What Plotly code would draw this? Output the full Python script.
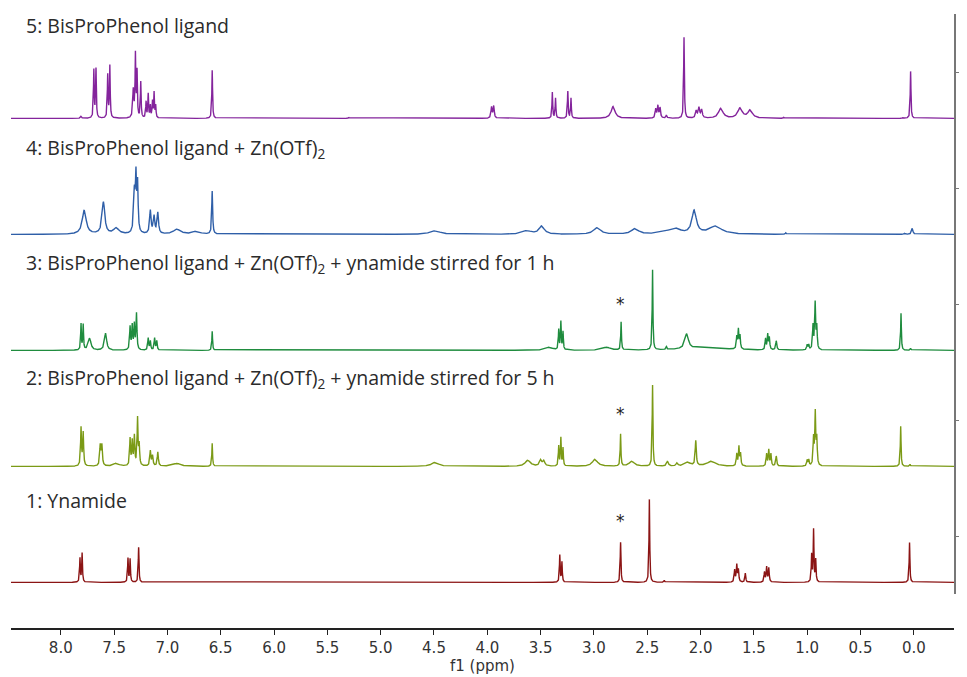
import numpy as np
import plotly.graph_objects as go

# ---------------- data: peak tables ----------------
# each peak: (shift ppm, intensity [a.u.], half-width ppm)
ppm_ticks = [8.0, 7.5, 7.0, 6.5, 6.0, 5.5, 5.0, 4.5, 4.0, 3.5, 3.0, 2.5, 2.0, 1.5, 1.0, 0.5, 0.0]
trace_ids = [1, 2, 3, 4, 5]
labels = [
    "1: Ynamide",
    "2: BisProPhenol ligand + Zn(OTf)<sub>2</sub> + ynamide stirred for 5 h",
    "3: BisProPhenol ligand + Zn(OTf)<sub>2</sub> + ynamide stirred for 1 h",
    "4: BisProPhenol ligand + Zn(OTf)<sub>2</sub>",
    "5: BisProPhenol ligand",
]
colors = ["#8b1414", "#7b9a16", "#1f8c3e", "#2f5fa8", "#84249c"]

peaks_1 = [
    (7.82, 24, 0.004), (7.80, 29, 0.004),
    (7.37, 24, 0.004), (7.35, 23, 0.004),
    (7.27, 35, 0.004),
    (3.32, 27, 0.004), (3.30, 20, 0.004),
    (2.75, 40, 0.004),
    (2.48, 83, 0.004),
    (2.34, 2, 0.005),
    (1.68, 12, 0.005), (1.66, 17, 0.005), (1.645, 12, 0.005),
    (1.58, 9, 0.005),
    (1.40, 10, 0.005), (1.38, 15, 0.005), (1.36, 14, 0.005),
    (0.958, 27, 0.004), (0.94, 52, 0.004), (0.92, 22, 0.004),
    (0.04, 40, 0.004),
]
peaks_2 = [
    (7.81, 38, 0.005), (7.79, 33, 0.005),
    (7.63, 20, 0.006), (7.615, 20, 0.006),
    (7.48, 3, 0.03),
    (7.35, 27, 0.005), (7.33, 24, 0.005), (7.31, 29, 0.005), (7.28, 47, 0.005), (7.265, 20, 0.005),
    (7.16, 15, 0.006), (7.14, 10, 0.006), (7.09, 14, 0.006),
    (6.91, 3, 0.04),
    (6.58, 23, 0.004),
    (4.49, 4, 0.04),
    (3.62, 6, 0.03), (3.50, 6, 0.012), (3.47, 5, 0.012),
    (3.33, 20, 0.004), (3.31, 28, 0.004), (3.29, 18, 0.004),
    (2.99, 7, 0.03),
    (2.75, 32, 0.004),
    (2.645, 5, 0.03),
    (2.45, 81, 0.004),
    (2.31, 5, 0.01), (2.22, 3, 0.01),
    (2.12, 4, 0.03),
    (2.045, 25, 0.006),
    (1.90, 5, 0.05),
    (1.66, 12, 0.005), (1.64, 19, 0.005), (1.625, 12, 0.005),
    (1.38, 12, 0.005), (1.36, 16, 0.005), (1.34, 12, 0.005), (1.29, 10, 0.006),
    (1.00, 6, 0.005), (0.985, 6, 0.005),
    (0.94, 27, 0.005), (0.924, 52, 0.005), (0.91, 26, 0.005),
    (0.123, 40, 0.004),
    (0.035, 2, 0.005),
]
peaks_3 = [
    (7.81, 26, 0.004), (7.79, 25, 0.004),
    (7.73, 12, 0.015),
    (7.58, 17, 0.012),
    (7.35, 23, 0.005), (7.33, 24, 0.005), (7.31, 25, 0.005), (7.29, 36, 0.005),
    (7.18, 12, 0.005), (7.16, 9, 0.005), (7.12, 12, 0.005), (7.10, 9, 0.005),
    (6.58, 19, 0.004),
    (3.42, 3, 0.04),
    (3.33, 20, 0.004), (3.31, 28, 0.004), (3.29, 18, 0.004),
    (2.88, 3, 0.04),
    (2.745, 28, 0.004),
    (2.45, 80, 0.004),
    (2.32, 3, 0.005),
    (2.13, 15, 0.02),
    (1.95, 2.5, 0.25),
    (1.66, 12, 0.005), (1.645, 19, 0.005), (1.63, 13, 0.005),
    (1.39, 11, 0.005), (1.37, 15, 0.005), (1.355, 12, 0.005), (1.29, 9, 0.006),
    (1.00, 5, 0.005), (0.985, 5, 0.005),
    (0.945, 24, 0.005), (0.925, 46, 0.005), (0.91, 22, 0.005),
    (0.12, 37, 0.004),
    (0.03, 2, 0.005),
]
peaks_4 = [
    (7.78, 24, 0.022),
    (7.60, 32, 0.015),
    (7.48, 6, 0.03),
    (7.31, 40, 0.008), (7.295, 52, 0.006), (7.28, 47, 0.006),
    (7.16, 23, 0.008), (7.125, 17, 0.008), (7.09, 21, 0.008),
    (6.91, 5, 0.04), (6.73, 3, 0.04),
    (6.58, 43, 0.005),
    (4.49, 3.5, 0.06),
    (3.63, 3.5, 0.05),
    (3.49, 8, 0.03),
    (2.97, 6.5, 0.04),
    (2.615, 5.5, 0.04),
    (2.30, 3, 0.08), (2.22, 4, 0.04),
    (2.06, 23, 0.025),
    (1.86, 8, 0.07),
    (1.20, 1.5, 0.005),
    (0.09, 1, 0.005),
    (0.015, 6, 0.008),
]
peaks_5 = [
    (7.81, 2, 0.006),
    (7.69, 48, 0.004), (7.67, 49, 0.004),
    (7.56, 43, 0.004), (7.54, 52, 0.004),
    (7.32, 28, 0.006), (7.30, 62, 0.004), (7.285, 45, 0.004), (7.25, 36, 0.004),
    (7.20, 16, 0.004), (7.18, 24, 0.004), (7.16, 12, 0.004), (7.14, 16, 0.004), (7.125, 25, 0.004), (7.11, 12, 0.004),
    (6.58, 48, 0.004),
    (5.30, 1, 0.005),
    (3.96, 11, 0.006), (3.94, 12, 0.006),
    (3.39, 26, 0.004), (3.36, 20, 0.004),
    (3.245, 27, 0.004), (3.215, 20, 0.004),
    (2.82, 12, 0.022),
    (2.42, 9, 0.006), (2.40, 12, 0.006), (2.38, 10, 0.006),
    (2.32, 3, 0.006),
    (2.155, 81, 0.004),
    (2.04, 7, 0.008), (2.015, 10, 0.008), (1.99, 8, 0.008),
    (1.81, 10, 0.025),
    (1.63, 10, 0.025), (1.535, 8, 0.025),
    (1.22, 1, 0.005),
    (0.10, 1, 0.005),
    (0.03, 47, 0.004),
]
all_peaks = [peaks_1, peaks_2, peaks_3, peaks_4, peaks_5]
star_ids = [1, 2, 3]      # spectra with the '*' mark over 2.75 ppm
star_ppm = 2.75

# ---------------- layout constants (page pixels) ----------------
OFF = 8                       # default body margin of the html page
W, H = 967 - OFF, 677 - OFF
L_PX, R_PX = 11, 954          # plot left/right pixel (page)
T_PX, B_PX = 12, 629          # plot top / x-axis line (page)
YD_TOP, YD_BOT = 14, 594      # right axis extent (page)
X_LEFT, X_RIGHT = 8.467, -0.377
UNIT = 116.0                  # pixels per stack step


def ydat(px):
    return 1 + (536 - px) / UNIT


def xpap(px):
    return (px - L_PX) / (R_PX - L_PX)


x = np.arange(X_RIGHT, X_LEFT, 0.001)

fig = go.Figure()
for k, peaks, col in zip(trace_ids, all_peaks, colors):
    y = np.zeros_like(x)
    for c, h, g in peaks:
        y += h * g * g / (g * g + (x - c) ** 2)
    fig.add_trace(go.Scatter(x=x, y=(k - 0.4) + y / UNIT, mode="lines",
                             line=dict(color=col, width=1.4), hoverinfo="skip",
                             showlegend=False))

label_px = [500, 378, 263, 148, 25]
annotations = []
for k, txt, ypx in zip(trace_ids, labels, label_px):
    annotations.append(dict(x=xpap(24), xref="paper", y=ydat(ypx), yref="y",
                            text=txt, showarrow=False, xanchor="left", yanchor="middle",
                            font=dict(family="Open Sans", size=19.5, color="#2b2b2b")))
star_px = [521, 414, 304]
for k, ypx in zip(star_ids, star_px):
    annotations.append(dict(x=star_ppm, xref="x", y=ydat(ypx), yref="y", text="*",
                            showarrow=False, font=dict(family="DejaVu Sans", size=17, color="#222")))
# right-hand stack index labels, squeezed next to the tick marks
for k in trace_ids:
    annotations.append(dict(x=xpap(958), xref="paper", y=k, yref="y", text=str(k),
                            showarrow=False, xanchor="left", yanchor="middle", borderpad=0,
                            font=dict(family="DejaVu Sans", size=9, color="#333")))

ph = B_PX - T_PX
fig.update_layout(
    width=W, height=H,
    margin=dict(l=L_PX - OFF, r=W - (R_PX - OFF), t=T_PX - OFF, b=H - (B_PX - OFF)),
    paper_bgcolor="white", plot_bgcolor="white",
    annotations=annotations,
    xaxis=dict(range=[X_LEFT, X_RIGHT], tickvals=ppm_ticks,
               ticktext=[f"{v:.1f}" for v in ppm_ticks],
               showline=True, linecolor="#222", linewidth=1.5, mirror=False,
               ticks="outside", ticklen=5, tickcolor="#222", showgrid=False, zeroline=False,
               anchor="free", position=0, automargin=False,
               tickfont=dict(family="DejaVu Sans", size=15, color="#333"),
               title=dict(text="f1 (ppm)", standoff=2,
                          font=dict(family="DejaVu Sans", size=15, color="#333"))),
    yaxis=dict(range=[0.5, 5.5], side="right", automargin=False,
               domain=[(B_PX - YD_BOT) / ph, (B_PX - YD_TOP) / ph],
               tickvals=trace_ids, showticklabels=False,
               showline=True, linecolor="#777", linewidth=1.5,
               ticks="outside", ticklen=4, tickcolor="#777", showgrid=False, zeroline=False),
)

fig.write_html("out.html")
